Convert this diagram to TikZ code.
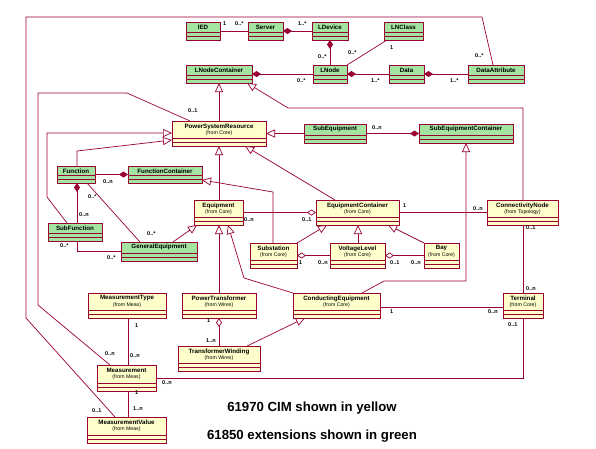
\documentclass[tikz,border=0pt]{standalone}
\usepackage{fontspec}
\setmainfont{Liberation Sans}
\usetikzlibrary{arrows.meta,calc}
\definecolor{lc}{HTML}{990033}
\definecolor{gfill}{HTML}{A2E4A0}
\definecolor{yfill}{HTML}{FFFFCC}
\tikzset{
  ln/.style={draw=lc, line width=0.7pt},
  clsbox/.style={draw=lc, line width=0.8pt, inner sep=0pt, outer sep=0pt, rectangle},
  gen/.style={ln, -{Triangle[length=9pt, width=8pt, fill=white]}},
  comp/.style={ln, -{Diamond[length=9pt, width=6pt, fill=lc]}},
  agg/.style={ln, -{Diamond[length=9pt, width=6pt, fill=white]}},
  cname/.style={font=\fontsize{6.2}{6.2}\selectfont\bfseries, inner sep=0pt},
  cfrom/.style={font=\fontsize{5.2}{5.2}\selectfont, inner sep=0pt},
  mult/.style={font=\fontsize{5.5}{5.5}\selectfont\bfseries, inner sep=0pt, anchor=west},
  legend/.style={font=\fontsize{13.2}{13.2}\selectfont\bfseries, inner sep=0pt}
}
% green class: id, x1, y1, x2, y2, name
\newcommand\gcls[6]{%
  \node[clsbox, fill=gfill, minimum width={(#4-#2)*1pt}, minimum height={(#5-#3)*1pt}] (#1) at ({(#2+#4)/2},{(#3+#5)/2}) {};
  \draw[ln] ([yshift=4pt]#1.south west) -- ([yshift=4pt]#1.south east);
  \draw[ln] ([yshift=8pt]#1.south west) -- ([yshift=8pt]#1.south east);
  \node[cname] (#1-t) at ([yshift=-5pt]#1.north) {#6};
}
% yellow class: id, x1, y1, x2, y2, name, package
\newcommand\ycls[7]{%
  \node[clsbox, fill=yfill, minimum width={(#4-#2)*1pt}, minimum height={(#5-#3)*1pt}] (#1) at ({(#2+#4)/2},{(#3+#5)/2}) {};
  \draw[ln] ([yshift=4pt]#1.south west) -- ([yshift=4pt]#1.south east);
  \draw[ln] ([yshift=8pt]#1.south west) -- ([yshift=8pt]#1.south east);
  \node[cname] (#1-t) at ([yshift=-5.5pt]#1.north) {#6};
  \node[cfrom] (#1-f) at ([yshift=-12.5pt]#1.north) {(from #7)};
}
\begin{document}
\begin{tikzpicture}[x=1pt,y=-1pt]
\useasboundingbox[fill=white] (0,0) rectangle (596,448);

% ---- connectors drawn first (under boxes) ----
% placeholders for classes so connectors can use names: draw boxes first, then connectors on top is fine
\gcls{ied}{186}{22}{220}{40}{IED}
\gcls{server}{248}{22}{283}{40}{Server}
\gcls{ldevice}{312}{22}{348}{40}{LDevice}
\gcls{lnclass}{384}{22}{423}{40}{LNClass}
\gcls{lnc}{186}{65}{252}{83}{LNodeContainer}
\gcls{lnode}{313}{65}{347}{83}{LNode}
\gcls{data}{389}{65}{424}{83}{Data}
\gcls{dattr}{468}{65}{524}{83}{DataAttribute}
\ycls{psr}{172}{121}{266}{146}{PowerSystemResource}{Core}
\gcls{subeq}{304}{124}{366}{143}{SubEquipment}
\gcls{subeqc}{419}{124}{513}{143}{SubEquipmentContainer}
\gcls{func}{57}{166}{95}{183}{Function}
\gcls{funcc}{128}{166}{202}{183}{FunctionContainer}
\ycls{equip}{194}{200}{243}{225}{Equipment}{Core}
\ycls{eqc}{316}{200}{399}{225}{EquipmentContainer}{Core}
\ycls{cnode}{487}{200}{558}{225}{ConnectivityNode}{Topology}
\gcls{subfunc}{48}{223}{102}{241}{SubFunction}
\gcls{geneq}{121}{242}{197}{261}{GeneralEquipment}
\ycls{subst}{250}{243}{297}{268}{Substation}{Core}
\ycls{vl}{330}{243}{385}{268}{VoltageLevel}{Core}
\ycls{bay}{424}{243}{459}{268}{Bay}{Core}
\ycls{mtype}{88}{293}{166}{318}{MeasurementType}{Meas}
\ycls{ptr}{182}{293}{256}{318}{PowerTransformer}{Wires}
\ycls{ceq}{293}{293}{380}{318}{ConductingEquipment}{Core}
\ycls{term}{503}{293}{543}{318}{Terminal}{Core}
\ycls{tw}{178}{346}{260}{371}{TransformerWinding}{Wires}
\ycls{meas}{97}{365}{156}{391}{Measurement}{Meas}
\ycls{mval}{87}{417}{166}{443}{MeasurementValue}{Meas}

% bend points
\coordinate (b1) at (482,17);
\coordinate (b2) at (26,17);
\coordinate (b3) at (26,318);
\coordinate (c1) at (523,108);
\coordinate (c2) at (288,108);
\coordinate (d1) at (384,281);
\coordinate (d2) at (466,281);
\coordinate (e1) at (38,305);
\coordinate (e2) at (38,93);
\coordinate (e3) at (127,93);
\coordinate (f1) at (47,197);
\coordinate (f2) at (47,133);
\coordinate (g1) at (77,151);
\coordinate (h1) at (273,192);
\coordinate (k1) at (244,278);

% ---- top (61850) associations ----
\draw[ln] (ied) -- (server);
\draw[comp] (ldevice) -- (server);
\draw[comp] (lnode) -- (ldevice);
\draw[ln] (lnclass.south -| 387,0) -- (lnode.north east);
\draw[comp] (lnode) -- (lnc);
\draw[comp] (data) -- (lnode);
\draw[comp] (dattr) -- (data);
\draw[ln] (dattr.north -| 493,0) -- (b1) -- (b2) -- (b3) -- (mval.north -| 115,0);

% ---- generalizations ----
\draw[gen] (psr.north -| 219,0) -- (lnc.south -| 219,0);
\draw[gen] (cnode.north -| 523,0) -- (c1) -- (c2) -- (lnc.south -| 247,0);
\draw[gen] (subeq.west) -- (subeq.west -| psr.east);
\draw[gen] (ceq.north -| 362,0) -- (d1) -- (d2) -- (subeqc.south -| 466,0);
\draw[gen] (subfunc.north -| 67,0) -- (f1) -- (f2) -- (psr.west |- 0,133);
\draw[gen] (func.north -| 77,0) -- (g1) -- (psr.west |- 0,140);
\draw[gen] (geneq.north -| 173,0) -- (equip.south -| 197,0);
\draw[gen] (subst.north -| 273,0) -- (h1) -- (funcc.east |- 0,180);
\draw[gen] (equip.north -| 219,0) -- (psr.south -| 219,0);
\draw[gen] (eqc.north -| 335,0) -- (psr.south -| 245,0);
\draw[gen] (ptr.north -| 219,0) -- (equip.south -| 219,0);
\draw[gen] (ceq.north west) -- (k1) -- (equip.south -| 228,0);
\draw[gen] (subst.north east) -- (eqc.south -| 327,0);
\draw[gen] (vl.north -| 358,0) -- (eqc.south -| 358,0);
\draw[gen] (bay.north west) -- (eqc.south -| 388,0);
\draw[gen] (tw.north -| 247,0) -- (ceq.south -| 305,0);

% ---- compositions / aggregations / associations ----
\draw[comp] (subeq) -- (subeqc);
\draw[comp] (func) -- (funcc);
\draw[comp] (subfunc.north -| 77,0) -- (func.south -| 77,0);
\draw[ln] (func.south -| 87,0) -- (geneq.north -| 140,0);
\draw[ln] (subfunc.south -| 77,0) |- (geneq.west);
\draw[ln] (meas.north -| 110,0) -- (e1) -- (e2) -- (e3) -- (psr.north -| 190,0);
\draw[agg] (equip) -- (eqc);
\draw[ln] (eqc) -- (cnode);
\draw[ln] (cnode.south -| 523,0) -- (term.north -| 523,0);
\draw[ln] (ceq.east |- 0,307) -- (term.west |- 0,307);
\draw[ln] (term.south) |- (meas.east);
\draw[ln] (meas.south -| 128,0) -- (mval.north -| 128,0);
\draw[ln] (mtype.south -| 128,0) -- (meas.north -| 128,0);
\draw[agg] (vl) -- (subst);
\draw[agg] (bay) -- (vl);
\draw[agg] (tw.north -| 219,0) -- (ptr.south -| 219,0);

% ---- multiplicities ----
\node[mult] (m1) at (223,24) {1};
\node[mult] (m2) at (235,24) {0..*};
\node[mult] (m3) at (298,24) {1..*};
\node[mult] (m4) at (318,57) {0..*};
\node[mult] (m5) at (348,53) {0..*};
\node[mult] (m6) at (390,48) {1};
\node[mult] (m7) at (297,81) {0..*};
\node[mult] (m8) at (371,81) {1..*};
\node[mult] (m9) at (450,81) {1..*};
\node[mult] (m10) at (475,56) {0..*};
\node[mult] (m11) at (188,111) {0..1};
\node[mult] (m12) at (372,128) {0..n};
\node[mult] (m13) at (103,182) {0..n};
\node[mult] (m14) at (88,197) {0..*};
\node[mult] (m15) at (79,215) {0..n};
\node[mult] (m16) at (60,246) {0..*};
\node[mult] (m17) at (107,258) {0..*};
\node[mult] (m18) at (147,234) {0..*};
\node[mult] (m19) at (244,220) {0..n};
\node[mult] (m20) at (302,220) {0..1};
\node[mult] (m21) at (403,206) {1};
\node[mult] (m22) at (473,209) {0..n};
\node[mult] (m23) at (526,228) {0..1};
\node[mult] (m24) at (526,289) {0..n};
\node[mult] (m25) at (299,263) {1};
\node[mult] (m26) at (318,263) {0..n};
\node[mult] (m27) at (390,263) {0..1};
\node[mult] (m28) at (411,263) {0..n};
\node[mult] (m29) at (390,312) {1};
\node[mult] (m30) at (488,312) {0..n};
\node[mult] (m31) at (508,325) {0..1};
\node[mult] (m32) at (162,383) {0..n};
\node[mult] (m33) at (135,326) {1};
\node[mult] (m34) at (130,356) {0..n};
\node[mult] (m35) at (105,354) {0..n};
\node[mult] (m36) at (135,393) {1};
\node[mult] (m37) at (133,409) {1..n};
\node[mult] (m38) at (207,321) {1};
\node[mult] (m39) at (206,341) {1..n};
\node[mult] (m40) at (92,411) {0..1};

% ---- legend ----
\node[legend] (leg1) at (312,408) {61970 CIM shown in yellow};
\node[legend] (leg2) at (312,436) {61850 extensions shown in green};
\end{tikzpicture}
\end{document}
